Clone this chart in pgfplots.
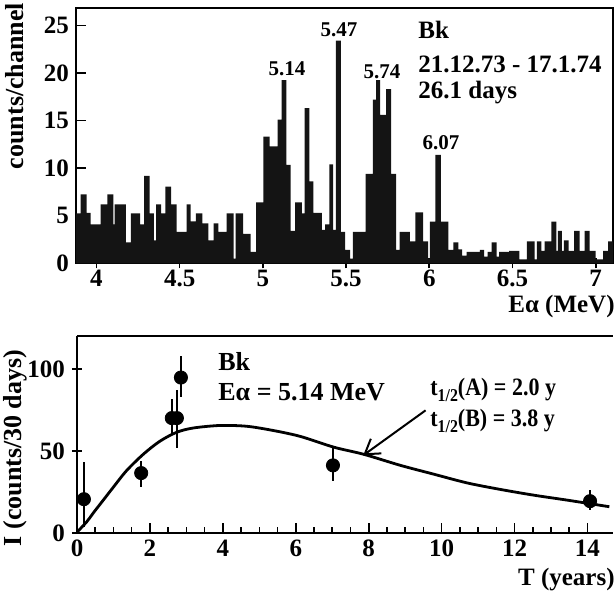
\documentclass[border=0pt]{standalone}
\usepackage{pgfplots}
\pgfplotsset{compat=1.18}
\usepackage{graphicx}
\usepackage{fontspec}
\setmainfont{Liberation Serif}
\usetikzlibrary{arrows.meta}
\newcommand\tfont{\fontsize{12.5}{13}\selectfont\bfseries}
\newcommand\lfont{\fontsize{13}{14}\selectfont\bfseries}
\newcommand\pfont{\fontsize{10.5}{11}\selectfont\bfseries}
\begin{document}
\begin{tikzpicture}
% ---------------- top: alpha spectrum ----------------
\begin{axis}[
  at={(38pt,-131.65pt)}, anchor=south west, scale only axis,
  width=268.5pt, height=127.5pt,
  xmin=3.877, xmax=7.104, ymin=0, ymax=26.8,
  xtick={4,4.5,5,5.5,6,6.5,7}, xticklabels={4,4.5,5,5.5,6,6.5,7},
  ytick={0,5,10,15,20,25},
  xtick pos=left, ytick pos=left,
  major tick length=5pt,
  tick style={line width=0.8pt, black},
  x tick style={yshift=-2.5pt},
  xticklabel style={yshift=0pt},
  axis line style={line width=1pt},
  tick label style={font=\tfont},
  /pgf/number format/assume math mode=true,
]
\addplot[const plot, fill=black!92, draw=none] coordinates {
(3.877,5.25) (3.905,7.25) (3.941,5.3) (3.965,4.1) (4.025,6.2) (4.066,7.25) (4.102,4.1) (4.109,6.2) (4.176,2.2) (4.206,5.25) (4.262,4.1) (4.286,9.2) (4.319,5.25) (4.345,2.4) (4.359,6.2) (4.388,5.25) (4.414,8.05) (4.448,6.2) (4.481,3.3) (4.542,6.2) (4.566,4.4) (4.597,5.25) (4.636,4.2) (4.672,2.4) (4.704,4.2) (4.732,3.3) (4.782,5.25) (4.824,0.5) (4.836,5.25) (4.881,3.1) (4.926,1.2) (4.959,6.4) (5.003,13.3) (5.041,12.3) (5.088,15.1) (5.112,19.25) (5.141,10.35) (5.167,3.4) (5.194,6.4) (5.234,5.25) (5.251,16.3) (5.280,8.6) (5.304,5.3) (5.354,3.5) (5.374,4.1) (5.400,10.4) (5.422,3.5) (5.438,23.4) (5.468,3.3) (5.494,1.4) (5.524,0.5) (5.541,3.3) (5.618,9.4) (5.661,17.2) (5.681,19.25) (5.705,15.6) (5.741,18.3) (5.771,9.4) (5.801,1.4) (5.821,3.3) (5.883,2.3) (5.917,5.35) (5.963,2.3) (5.993,0.5) (6.004,4.37) (6.037,11.4) (6.070,4.37) (6.114,1.4) (6.144,2.2) (6.174,1.45) (6.198,0.8) (6.224,1.2) (6.304,1.4) (6.330,0.7) (6.350,1.2) (6.374,2.2) (6.404,0.7) (6.420,1.2) (6.479,1.3) (6.542,0.4) (6.587,2.3) (6.633,0.4) (6.647,2.3) (6.673,1.3) (6.693,2.3) (6.733,4.37) (6.763,1.3) (6.773,3.4) (6.797,1.3) (6.809,2.4) (6.837,1.3) (6.870,3.4) (6.903,1.3) (6.933,3.4) (6.963,1.3) (6.999,0.4) (7.044,1.3) (7.074,2.3) (7.104,2.3)
} \closedcycle;
\end{axis}
% ---------------- bottom: intensity vs time ----------------
\begin{axis}[
  at={(38.5pt,-266.5pt)}, anchor=south west, scale only axis,
  width=268pt, height=98.5pt,
  xmin=0, xmax=14.7, ymin=0, ymax=120,
  axis x line=box, axis y line=left,
  x axis line style={-, line width=1pt}, y axis line style={-, line width=1pt},
  xtick={0,2,4,6,8,10,12,14}, xticklabels={0,2,4,6,8,10,12,14},
  minor x tick num=3,
  ytick={0,50,100},
  xtick pos=left, ytick pos=left,
  major tick length=5pt, minor tick length=3pt,
  tick style={line width=0.8pt, black},
  tick label style={font=\tfont},
  /pgf/number format/assume math mode=true,
]
\addplot[smooth, line width=1.4pt] coordinates {
(0,0.5) (0.27,6.9) (0.45,12.3) (0.72,20) (1.0,28) (1.36,38) (1.82,48) (2.28,56) (2.74,61.4) (3.2,64) (3.93,65.5) (4.66,65) (5.39,62.4) (6.13,58.8) (7.04,52.3) (7.87,47.9) (8.87,41.2) (9.79,35.8) (10.7,30.5) (11.62,26.5) (12.54,23) (13.45,20) (14.6,16)
};
\addplot[only marks, mark=*, mark size=3.3pt, black,
  error bars/.cd, y dir=both, y explicit, error mark=none,
  error bar style={line width=1.2pt}]
coordinates {
(0.19,20.6) += (0,22.4) -= (0,17)
(1.76,36.5) += (0,7.3) -= (0,8.5)
(2.6,70) += (0,11.6) -= (0,9)
(2.74,70) += (0,17) -= (0,18)
(2.85,94.7) += (0,13.3) -= (0,12)
(7.02,41.2) += (0,10.8) -= (0,9.8)
(14.07,19.4) += (0,6.6) -= (0,5.4)
};
\draw[line width=1pt, -{Straight Barb[length=7pt,width=9pt]}] (axis cs:9.56,74.7) -- (axis cs:7.85,47.3);
\end{axis}
% ---------------- texts ----------------
\node[font=\pfont] at (143.5pt,-34.5pt) {5.14};
\node[font=\pfont] at (169.5pt,-15pt) {5.47};
\node[font=\pfont] at (191pt,-36pt) {5.74};
\node[font=\pfont] at (220.5pt,-71.5pt) {6.07};
\node[font=\tfont, anchor=west, inner sep=0pt] at (209pt,-15pt) {Bk};
\node[font=\tfont, anchor=west, inner sep=0pt] at (209pt,-32pt) {21.12.73 - 17.1.74};
\node[font=\tfont, anchor=west, inner sep=0pt] at (209pt,-46.5pt) {26.1 days};
\node[font=\lfont, rotate=90] at (7.5pt,-43pt) {counts/channel};
\node[font=\tfont, anchor=east, inner sep=0pt] at (307.5pt,-153pt) {Eα (MeV)};
\node[font=\lfont, rotate=90] at (7.5pt,-224pt) {I (counts/30 days)};
\node[font=\lfont, anchor=west, inner sep=0pt] at (109pt,-181pt) {Bk};
\node[font=\lfont, anchor=west, inner sep=0pt] at (109pt,-196pt) {Eα = 5.14 MeV};
\node[font=\tfont, anchor=west, inner sep=0pt] at (215pt,-195pt) {\scalebox{0.88}[1]{t\raisebox{-0.45ex}{\fontsize{9}{10}\selectfont 1/2}(A) = 2.0 y}};
\node[font=\tfont, anchor=west, inner sep=0pt] at (215pt,-210.5pt) {\scalebox{0.88}[1]{t\raisebox{-0.45ex}{\fontsize{9}{10}\selectfont 1/2}(B) = 3.8 y}};
\node[font=\tfont, anchor=east, inner sep=0pt] at (307.5pt,-290pt) {T (years)};
\pgfresetboundingbox
\useasboundingbox (0pt,0pt) rectangle (307.5pt,-298.5pt);
\end{tikzpicture}
\end{document}
